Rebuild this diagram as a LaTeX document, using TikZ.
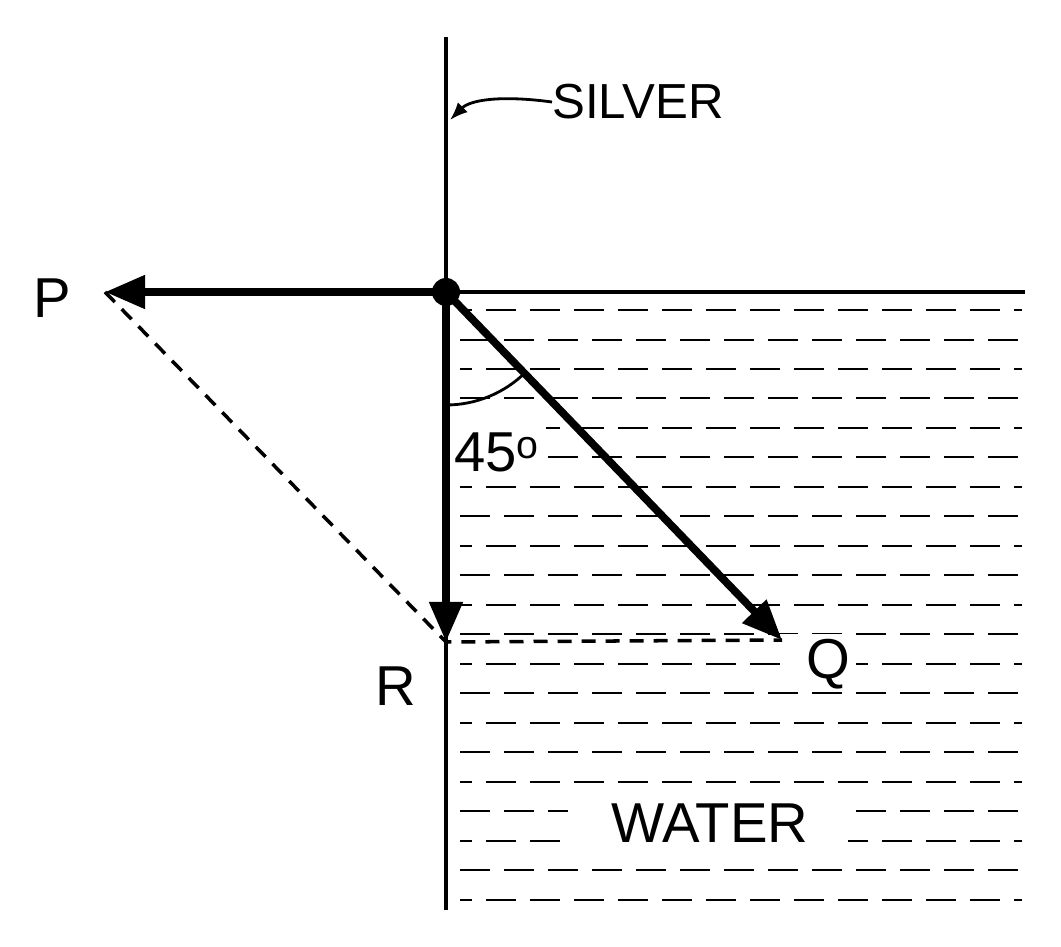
\documentclass[tikz,border=0pt]{standalone}
\usepackage{fontspec}
\setmainfont{Liberation Sans}
\usetikzlibrary{arrows.meta}
\begin{document}
\begin{tikzpicture}[x=0.025cm,y=-0.025cm,
  thin line/.style={line width=2.8pt},
  ray/.style={line width=5.5pt,-{Triangle[length=1cm,width=0.8cm]}},
  lab/.style={font=\fontsize{40}{48}\selectfont,inner sep=0pt},
  blank/.style={fill=white,inner sep=6pt}]
\useasboundingbox (0,0) rectangle (1061,947);
% water dashes
\foreach \y [count=\i] in {310,340,369,398,428,457,487,516,546,575,605,634,664,693,723,752,782,811,841,870,900}{
  \pgfmathsetmacro{\off}{mod(\i,2)*0.45}
  \draw[line width=1.3pt,dash pattern=on 0.75cm off 0.35cm,dash phase=\off cm] (460,\y) -- (1022,\y);
}
\node[blank,minimum width=7cm,minimum height=1.6cm] at (708,823) {};
\node[blank,minimum width=1.9cm,minimum height=1.4cm] at (818,662) {};
\node[blank,minimum width=2.3cm,minimum height=1.4cm] at (500,452) {};
% lines
\coordinate (top) at (446,37);
\coordinate (bot) at (446,910);
\coordinate (E) at (1025,292);
\node[circle,fill=black,inner sep=0pt,minimum size=0.7cm] (O) at (446,292) {};
\draw[thin line] (top) -- (bot);
\draw[thin line] (O.center) -- (E);
\coordinate (Pt) at (105,292);
\coordinate (Rt) at (446,642);
\coordinate (Qt) at (782,640);
\draw[ray] (O.center) -- (Pt);
\draw[ray] (O.center) -- (Rt);
\draw[ray] (O.center) -- (Qt);
\draw[line width=2.5pt,dash pattern=on 0.35cm off 0.25cm] (Pt) -- (Rt) -- (Qt);
% angle
\draw[line width=2pt] (446,405) arc[start angle=90,end angle=45,radius=113];
\node[lab] at (497,452) {45$^{\mathrm o}$};
% labels
\node[lab] (P) at (52,298) {P};
\node[lab] (R) at (396,686) {R};
\node[lab] (Q) at (828,664) {Q};
\node[lab] (W) at (710,823) {WATER};
\node[font=\fontsize{35}{42}\selectfont,inner sep=0pt,anchor=west] (S) at (552,102) {SILVER};
\draw[line width=2pt,-{Latex[length=0.45cm,width=0.35cm]}] (S.west) .. controls (500,95) and (470,100) .. (450,120);
\end{tikzpicture}
\end{document}
